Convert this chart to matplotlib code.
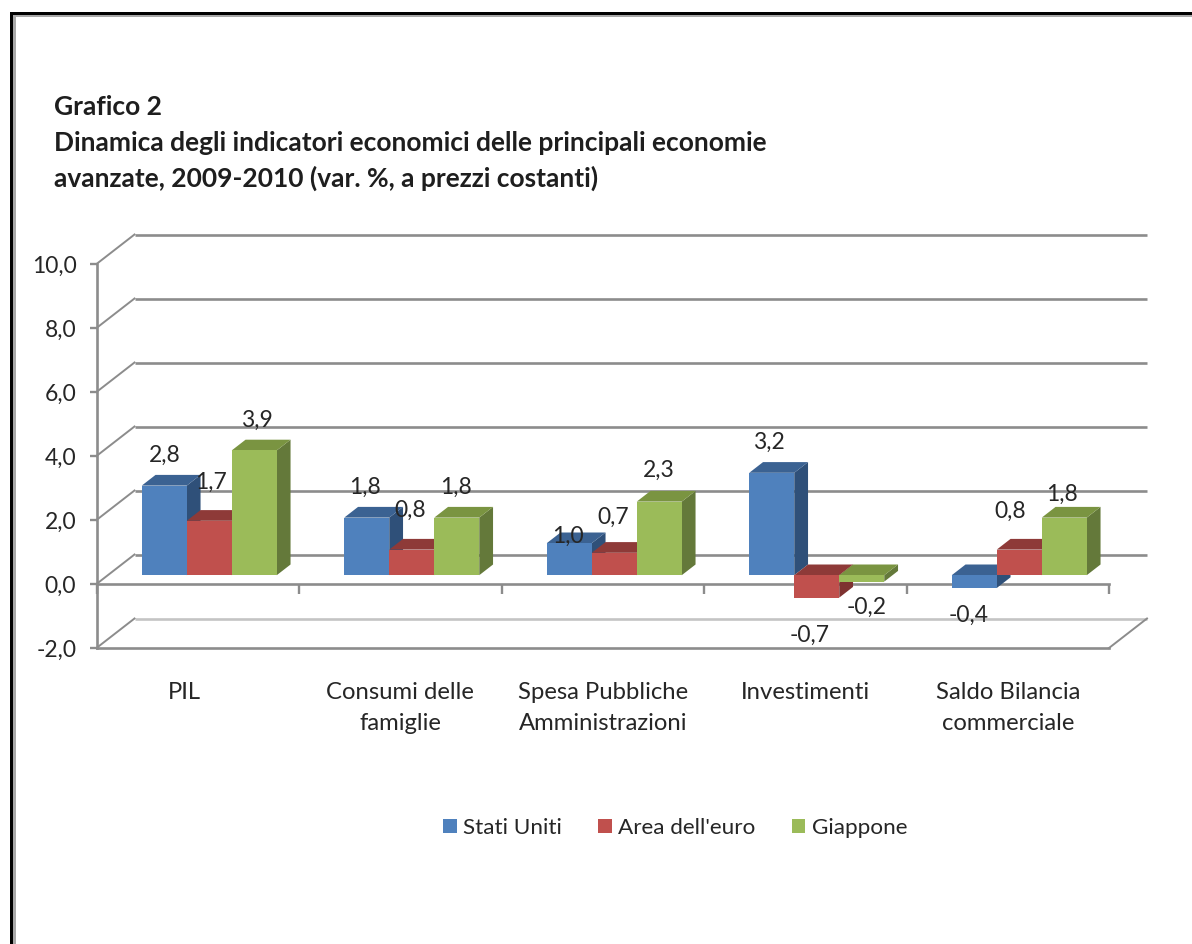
"""
Grafico 2: barre con finto effetto 3D (stile Excel) disegnate su assi normali
"""

import matplotlib
matplotlib.use("Agg")
import matplotlib.pyplot as plt
from matplotlib.patches import Patch, Polygon, Rectangle
from matplotlib.ticker import FuncFormatter, MultipleLocator

# Dati
categories = ["PIL", "Consumi delle\nfamiglie", "Spesa Pubbliche\nAmministrazioni",
              "Investimenti", "Saldo Bilancia\ncommerciale"]
series_names = ["Stati Uniti", "Area dell'euro", "Giappone"]
stati_uniti = [2.8, 1.8, 1.0, 3.2, -0.4]
area_euro = [1.7, 0.8, 0.7, -0.7, 0.8]
giappone = [3.9, 1.8, 2.3, -0.2, 1.8]
title_lines = ["Grafico 2",
               "Dinamica degli indicatori economici delle principali economie",
               "avanzate, 2009-2010 (var. %, a prezzi costanti)"]

# Colori: fronte, tetto, fianco
front_colors = ["#4F81BD", "#3B6292", "#C0504D", "#8E3A38", "#9BBB59", "#7A9441"]
side_colors = ["#2F5079", "#7E3230", "#64793A"]
GRID = "#8C8C8C"
TEXT = "#262626"

W, H = 1192, 944
FONT = "Lato"
plt.rcParams["font.family"] = [FONT, "DejaVu Sans"]

# Scostamenti delle etichette in pixel
label_nudge = [
    [(0, 30), (-2, 30), (-1, 7), (-3, 30), (-6, -27)],
    [(2, 38), (-2, 39), (-1, 35), (-7, -38), (-9, 38)],
    [(3, 30), (-1, 30), (-1, 31), (5, -26), (-2, 23)],
]

# Profondita' del "pavimento" in unita' dati
DEPTH_X = 38 / 202.5
DEPTH_Y = 29.5 / 32
BAR_W = 45 / 202.5
BAR_START = 0.1675
BAR_D0 = 8.8 / 29.5
BAR_D1 = 19.5 / 29.5


def project(x, y, d):
    """Sposta un punto (x, y) indietro di una profondita' d tra 0 e 1."""
    return (x + d * DEPTH_X, y + d * DEPTH_Y)


def draw_bar(ax, x, value, k, z):
    """Disegna una barra: fianco, tetto e fronte."""
    top = max(value, 0)
    bottom = min(value, 0)
    x1 = x + BAR_W
    side = [project(x1, bottom, BAR_D0), project(x1, top, BAR_D0),
            project(x1, top, BAR_D1), project(x1, bottom, BAR_D1)]
    roof = [project(x, top, BAR_D0), project(x1, top, BAR_D0),
            project(x1, top, BAR_D1), project(x, top, BAR_D1)]
    face = [project(x, bottom, BAR_D0), project(x1, bottom, BAR_D0),
            project(x1, top, BAR_D0), project(x, top, BAR_D0)]
    ax.add_patch(Polygon(side, fc=side_colors[k], ec="none", clip_on=False, zorder=z))
    ax.add_patch(Polygon(roof, fc=front_colors[2 * k + 1], ec="none", clip_on=False, zorder=z + 0.1))
    ax.add_patch(Polygon(face, fc=front_colors[2 * k], ec="none", clip_on=False, zorder=z + 0.2))


fig = plt.figure(figsize=(W / 100, H / 100), dpi=100)
ax = fig.add_axes([96.5 / W, 1 - 648 / H, (1109 - 96.5) / W, (648 - 264) / H])
ax.set_xlim(0, 5)
ax.set_ylim(-2, 10)
ax.patch.set_alpha(0)

# Cornice della pagina
fig.add_artist(Rectangle((13 / W, 0), 2.5 / W, 1 - 15 / H, transform=fig.transFigure, fc="#A8A8A8", ec="none"))
fig.add_artist(Rectangle((13 / W, 1 - 16.5 / H), 1 - 13 / W, 1.5 / H, transform=fig.transFigure, fc="#A8A8A8", ec="none"))
fig.add_artist(Rectangle((10 / W, 0), 3 / W, 1 - 12 / H, transform=fig.transFigure, fc="black", ec="none"))
fig.add_artist(Rectangle((10 / W, 1 - 15 / H), 1 - 10 / W, 3 / H, transform=fig.transFigure, fc="black", ec="none"))

# Assi
for name in ["top", "right"]:
    ax.spines[name].set_visible(False)
ax.spines["bottom"].set_position(("data", 0))
for name in ["left", "bottom"]:
    ax.spines[name].set_color(GRID)
    ax.spines[name].set_linewidth(1.9)
    ax.spines[name].set_zorder(1.5)
ax.xaxis.set_major_locator(MultipleLocator(1))
ax.yaxis.set_major_locator(MultipleLocator(2))
ax.yaxis.set_major_formatter(FuncFormatter(lambda v, pos: f"{v:.1f}".replace(".", ",")))
ax.tick_params(axis="y", direction="out", length=5, width=1.7, color=GRID, labelsize=16.5, labelcolor=TEXT, pad=9.5)
ax.tick_params(axis="x", direction="out", length=7, width=1.7, color=GRID, labelbottom=False)

# Griglia sul fondo, con i raccordi verso gli assi
for y in range(-2, 11, 2):
    back_color = "#C4C4C4" if y == -2 else GRID
    x0, y0 = project(0, y, 1)
    x1, y1 = project(5, y, 1)
    ax.plot([x0, x1], [y0, y1], color=back_color, lw=1.9, clip_on=False, zorder=1, solid_capstyle="butt")
    ax.plot([0, x0], [y, y0], color=GRID, lw=1.4, clip_on=False, zorder=1)

# Pavimento
ax.plot([0, 5], [-2, -2], color=GRID, lw=1.9, clip_on=False, zorder=1)
ax.plot([5, project(5, -2, 1)[0]], [-2, project(5, -2, 1)[1]], color=GRID, lw=1.4, clip_on=False, zorder=1)

# Barre e etichette
all_series = [stati_uniti, area_euro, giappone]
for k, values in enumerate(all_series):
    for i, v in enumerate(values):
        x = i + BAR_START + k * BAR_W
        draw_bar(ax, x, v, k, 2 + i + 0.5 * k)
        px, py = project(x + BAR_W / 2, v, BAR_D0)
        ax.annotate(f"{v:.1f}".replace(".", ","), xy=(px, py), xytext=label_nudge[k][i],
                    textcoords="offset pixels", ha="center", va="center",
                    fontsize=16.5, color=TEXT, annotation_clip=False, zorder=10)

# Etichette delle categorie
for i, cat in enumerate(categories):
    xc = i + 0.5 - (0.065 if i == 0 else 0)
    ax.text(xc, -3.05, cat, ha="center", va="top", fontsize=17.2, color=TEXT,
            linespacing=1.62, clip_on=False)

# Titolo
for line, y in zip(title_lines, [107, 143, 178]):
    fig.text(54 / W, 1 - y / H, line, ha="left", va="center", fontsize=19, fontweight="bold", color="#1E1E1E")

# Legenda
handles = [Patch(fc=front_colors[2 * k], ec="none") for k in range(3)]
fig.legend(handles, series_names, loc="center left", bbox_to_anchor=(423 / W, 1 - 828 / H), ncol=3,
           frameon=False, fontsize=16.2, labelcolor=TEXT, handlelength=0.6, handleheight=0.6,
           handletextpad=0.29, columnspacing=1.6)

fig.savefig("out.png", dpi=100)
